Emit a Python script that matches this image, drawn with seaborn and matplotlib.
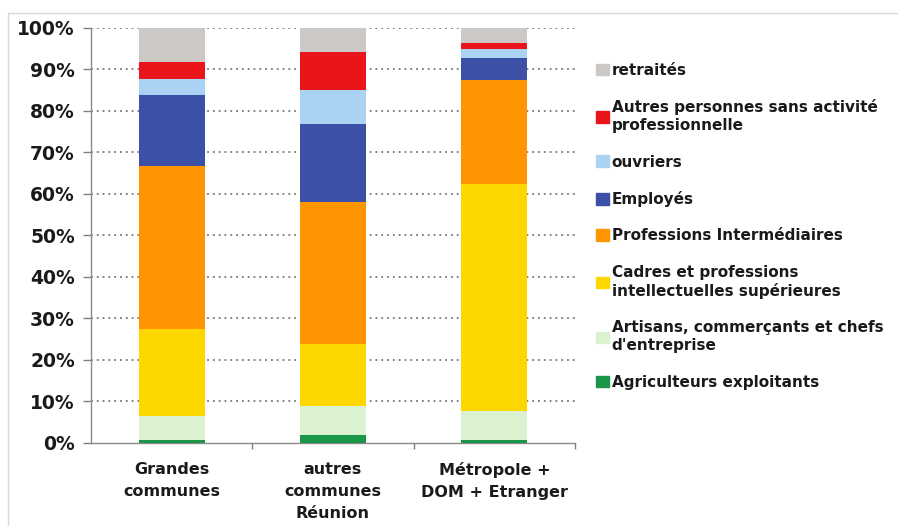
import numpy as np
import pandas as pd
import matplotlib
matplotlib.use("Agg")
import matplotlib.pyplot as plt
import matplotlib.patches as mpatches
import matplotlib.lines as mlines
import seaborn as sns

# DATA (bottom to top of each stacked bar, in %)
zones = ["Grandes\ncommunes", "autres\ncommunes\nRéunion", "Métropole +\nDOM + Etranger"]
categories = [
    "Agriculteurs exploitants",
    "Artisans, commerçants et chefs\nd'entreprise",
    "Cadres et professions\nintellectuelles supérieures",
    "Professions Intermédiaires",
    "Employés",
    "ouvriers",
    "Autres personnes sans activité\nprofessionnelle",
    "retraités",
]
agriculteurs = [0.6, 1.8, 0.8]
artisans = [6.0, 7.2, 6.8]
cadres = [20.9, 14.9, 54.9]
prof_inter = [39.2, 34.1, 25.0]
employes = [17.1, 18.9, 5.3]
ouvriers = [3.8, 8.1, 2.1]
autres = [4.2, 9.1, 1.4]
retraites = [8.2, 5.9, 3.7]
colors = ["#1B9548", "#DAF2D0", "#FFD700", "#FF9500",
          "#3C50A5", "#AAD2F3", "#E9151B", "#CBC8C6"]

series = [agriculteurs, artisans, cadres, prof_inter, employes, ouvriers, autres, retraites]
rows = []
for cat, vals in zip(categories, series):
    for z, v in zip(zones, vals):
        rows.append({"zone": z, "cat": cat, "value": v})
df = pd.DataFrame(rows)
df["cum"] = df.groupby("zone", sort=False)["value"].cumsum()

# PLOT
sns.set_style("white")
plt.rcParams["font.family"] = ["DejaVu Sans"]
fig = plt.figure(figsize=(8.98, 5.26), dpi=100)
ax = fig.add_axes([0.1013, 0.158, 0.539, 0.789])

# draw the tallest cumulative layer first, lower layers on top
for cat, col in reversed(list(zip(categories, colors))):
    sub = df[df["cat"] == cat]
    sns.barplot(data=sub, x="zone", y="cum", order=zones, color=col,
                width=0.41, linewidth=0, saturation=1, ax=ax, zorder=3)

ax.set_xlim(-0.5, 2.5)
ax.set_ylim(0, 100)
ax.set_yticks(np.arange(0, 101, 10))
ax.set_yticklabels([f"{v}%" for v in range(0, 101, 10)],
                   fontsize=13.5, fontweight="bold", color="#1a1a1a")
ax.set_xticks(range(3))
ax.set_xticklabels(zones, fontsize=11.5, fontweight="bold", linespacing=1.55,
                   color="#1a1a1a")
ax.set_xticks([0.5, 1.5, 2.5], minor=True)
ax.tick_params(axis="x", which="major", bottom=True, length=0, pad=14)
ax.tick_params(axis="x", which="minor", bottom=True, length=4, width=1,
               color="#808080", direction="out")
ax.tick_params(axis="y", left=True, length=5.5, color="#808080", width=1, pad=6)
ax.set_xlabel("")
ax.set_ylabel("")

for y in range(10, 101, 10):
    ax.axhline(y, color="#606060", linestyle=(0, (1.2, 2.6)), linewidth=1.1, zorder=1)

for s in ["top", "right"]:
    ax.spines[s].set_visible(False)
for s in ["left", "bottom"]:
    ax.spines[s].set_color("#8a8a8a")
    ax.spines[s].set_linewidth(1.0)

# legend, top entry = top of stack
handles = [mpatches.Patch(color=c, label=l) for l, c in zip(categories, colors)]
handles = handles[::-1]
leg = fig.legend(handles=handles, loc="upper left", bbox_to_anchor=(0.6555, 0.895),
                 frameon=False, borderpad=0, handlelength=0.8, handleheight=0.8,
                 handletextpad=0.2, labelspacing=1.4,
                 prop={"family": "DejaVu Sans", "weight": "bold", "size": 11})
for t in leg.get_texts():
    t.set_color("#1a1a1a")
    t.set_linespacing(1.25)

# light frame around the picture
fig.add_artist(mlines.Line2D([0.009, 1], [0.976, 0.976], transform=fig.transFigure,
                             color="#d8d8d8", linewidth=1))
fig.add_artist(mlines.Line2D([0.009, 0.009], [0, 0.976], transform=fig.transFigure,
                             color="#d8d8d8", linewidth=1))

fig.savefig("out.png", dpi=100)
